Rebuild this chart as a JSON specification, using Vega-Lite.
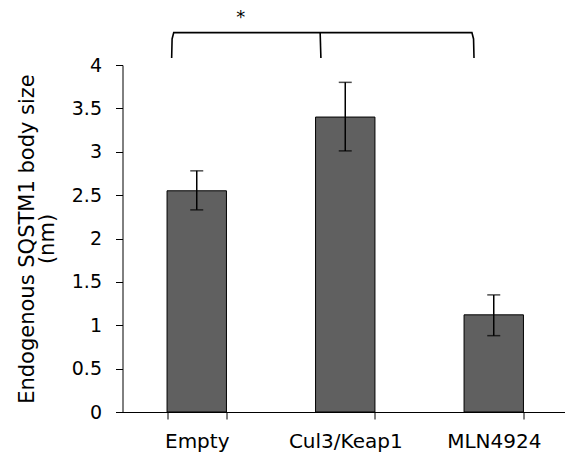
{
  "$schema": "https://vega.github.io/schema/vega-lite/v6.json",
  "width": 445.5,
  "height": 347,
  "autosize": "none",
  "padding": {"left": 122.5, "top": 65, "right": 0, "bottom": 46},
  "config": {"view": {"stroke": null}, "font": "DejaVu Sans", "background": "white"},
  "resolve": {"scale": {"x": "independent", "y": "independent"}},
  "layer": [
    {
      "data": {"values": [
        {"group": "Empty", "mean": 2.55, "lo": 2.33, "hi": 2.78},
        {"group": "Cul3/Keap1", "mean": 3.4, "lo": 3.01, "hi": 3.8},
        {"group": "MLN4924", "mean": 1.12, "lo": 0.88, "hi": 1.35}
      ]},
      "encoding": {
        "x": {
          "field": "group", "type": "nominal", "sort": null,
          "scale": {"paddingInner": 0.6, "paddingOuter": 0.3},
          "axis": {
            "title": null, "labelAngle": 0, "tickBand": "extent", "tickSize": 7,
            "labelFontSize": 20, "labelPadding": 12, "labelColor": "black",
            "domainColor": "black", "tickColor": "black", "domainWidth": 1, "tickWidth": 1
          }
        }
      },
      "layer": [
        {
          "mark": {"type": "bar", "fill": "#606060", "stroke": "black", "strokeWidth": 1},
          "encoding": {
            "y": {
              "field": "mean", "type": "quantitative",
              "scale": {"domain": [0, 4], "nice": false},
              "axis": {
                "values": [0, 0.5, 1, 1.5, 2, 2.5, 3, 3.5, 4], "format": ".2~f",
                "grid": false, "tickSize": 7, "labelFontSize": 19, "labelPadding": 14,
                "labelColor": "black", "domainColor": "black", "tickColor": "black",
                "title": ["Endogenous SQSTM1 body size", "(nm)"],
                "titleFontSize": 21, "titleFontWeight": "normal", "titleColor": "black",
                "titleLineHeight": 20, "titleAngle": -90, "titleAlign": "center",
                "titleBaseline": "middle", "titleX": -95, "titleY": 173.5
              }
            }
          }
        },
        {
          "mark": {"type": "rule", "color": "black", "strokeWidth": 1.5},
          "encoding": {"y": {"field": "lo", "type": "quantitative"}, "y2": {"field": "hi"}}
        },
        {
          "mark": {"type": "tick", "color": "black", "thickness": 1.5, "size": 13},
          "encoding": {"y": {"field": "lo", "type": "quantitative"}}
        },
        {
          "mark": {"type": "tick", "color": "black", "thickness": 1.5, "size": 13},
          "encoding": {"y": {"field": "hi", "type": "quantitative"}}
        }
      ]
    },
    {
      "data": {"values": [
        {"seg": "a", "ord": 1, "bx": 0.331, "by": 4.08},
        {"seg": "a", "ord": 2, "bx": 0.334, "by": 4.3},
        {"seg": "a", "ord": 3, "bx": 0.345, "by": 4.373},
        {"seg": "a", "ord": 4, "bx": 2.353, "by": 4.373},
        {"seg": "a", "ord": 5, "bx": 2.364, "by": 4.3},
        {"seg": "a", "ord": 6, "bx": 2.367, "by": 4.08},
        {"seg": "b", "ord": 1, "bx": 1.331, "by": 4.373},
        {"seg": "b", "ord": 2, "bx": 1.336, "by": 4.08}
      ]},
      "mark": {"type": "line", "color": "black", "strokeWidth": 1.6, "clip": false},
      "encoding": {
        "x": {"field": "bx", "type": "quantitative", "scale": {"domain": [0, 3], "nice": false, "zero": false}, "axis": null},
        "y": {"field": "by", "type": "quantitative", "scale": {"domain": [0, 4], "nice": false, "zero": false}, "axis": null},
        "detail": {"field": "seg"},
        "order": {"field": "ord", "type": "quantitative"}
      }
    },
    {
      "data": {"values": [{"label": "*", "sx": 0.797, "sy": 4.544}]},
      "mark": {"type": "text", "fontSize": 18, "color": "black", "baseline": "middle", "align": "center", "clip": false},
      "encoding": {
        "x": {"field": "sx", "type": "quantitative", "scale": {"domain": [0, 3], "nice": false, "zero": false}, "axis": null},
        "y": {"field": "sy", "type": "quantitative", "scale": {"domain": [0, 4], "nice": false, "zero": false}, "axis": null},
        "text": {"field": "label"}
      }
    }
  ]
}
